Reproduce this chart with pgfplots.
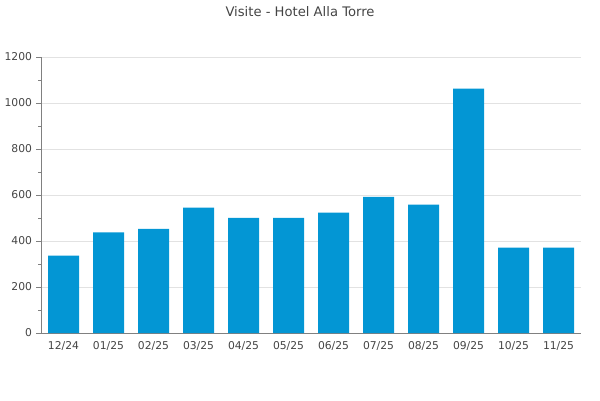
\documentclass[border=0pt]{standalone}
\usepackage{fontspec}
\setmainfont{DejaVu Sans}
\usepackage{pgfplots}
\pgfplotsset{compat=1.18}
\definecolor{barblue}{HTML}{0396D4}
\definecolor{txtgray}{HTML}{444444}
\definecolor{axgray}{HTML}{808080}
\definecolor{gridgray}{HTML}{E2E2E2}
\begin{document}
\begin{tikzpicture}[x=1bp,y=1bp]
\path[use as bounding box] (0,0) rectangle (600,400);
\node[font=\fontsize{13.2}{15}\selectfont, text=txtgray] at (300,388) {Visite - Hotel Alla Torre};
\begin{axis}[
  at={(41bp,67bp)}, anchor=south west,
  scale only axis, width=540bp, height=276bp,
  xmin=-0.5, xmax=11.5, ymin=0, ymax=1200,
  axis x line*=bottom, axis y line*=left,
  axis line style={axgray, line width=0.8pt},
  /pgf/number format/assume math mode=true,
  /pgf/number format/1000 sep={},
  tick label style={font=\fontsize{10.8}{12}\selectfont, text=txtgray},
  xtick={0,...,11},
  xticklabels={12/24,01/25,02/25,03/25,04/25,05/25,06/25,07/25,08/25,09/25,10/25,11/25},
  x tick style={draw=none},
  ytick={0,200,...,1200},
  minor y tick num=1,
  y tick style={axgray, line width=0.6pt},
  tick align=outside,
  major tick length=5bp, minor tick length=3bp,
  ymajorgrids, grid style={gridgray, line width=0.6pt},
  yticklabel style={xshift=-0.5bp},
  ybar, bar width=31bp,
]
\addplot[fill=barblue, draw=none] coordinates {
  (0,336) (1,437) (2,453) (3,545) (4,501) (5,501)
  (6,523) (7,592) (8,558) (9,1062) (10,371) (11,371)
};
\end{axis}
\end{tikzpicture}
\end{document}
